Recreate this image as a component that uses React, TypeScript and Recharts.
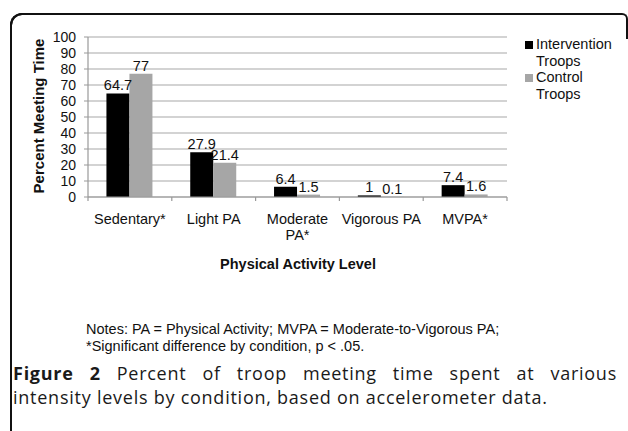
import React from 'react'
import { BarChart, Bar, XAxis, YAxis, CartesianGrid, LabelList } from 'recharts'

const categories = ['Sedentary*', 'Light PA', 'Moderate PA*', 'Vigorous PA', 'MVPA*']
const intervention = [64.7, 27.9, 6.4, 1, 7.4]
const control = [77, 21.4, 1.5, 0.1, 1.6]
const yTicks = [0, 10, 20, 30, 40, 50, 60, 70, 80, 90, 100]

const tickLabelLines: Record<string, string[]> = {
  'Moderate PA*': ['Moderate', 'PA*'],
}

const font = '"Liberation Sans", Arial, sans-serif'

const data = categories.map((c, i) => ({
  name: c,
  intervention: intervention[i],
  control: control[i],
}))

function CategoryTick(props: any) {
  const { x, y, payload, index } = props
  const half = payload && payload.offset ? payload.offset : 41.9
  const lines = tickLabelLines[payload.value] || [payload.value]
  return (
    <g>
      <line x1={x - half} x2={x - half} y1={y - 8} y2={y - 4} stroke="#999" strokeWidth={1.2} />
      {index === categories.length - 1 && (
        <line x1={x + half} x2={x + half} y1={y - 8} y2={y - 4} stroke="#999" strokeWidth={1.2} />
      )}
      <text x={x} y={y + 19} textAnchor="middle" fontSize={14.5} fill="#111" fontFamily={font}>
        {lines.map((l: string, i: number) => (
          <tspan key={i} x={x} dy={i === 0 ? 0 : 16}>{l}</tspan>
        ))}
      </text>
    </g>
  )
}

export default function App() {
  return (
    <div style={{ position: 'absolute', left: 0, top: 0, width: 628, height: 431, background: '#fff', overflow: 'hidden', fontFamily: font }}>
      <div style={{ position: 'absolute', left: 10, top: 13, width: 614, height: 440, borderTop: '2px solid #111', borderLeft: '2px solid #111', borderRight: '2px solid #111', borderTopLeftRadius: 12, borderTopRightRadius: 6, clipPath: 'inset(0 0 416px 0)' }} />
      <div style={{ position: 'absolute', left: 10, top: 13, width: 40, height: 440, borderTop: '2px solid #111', borderLeft: '2px solid #111', borderTopLeftRadius: 12 }} />
      <BarChart
        width={628}
        height={431}
        data={data}
        margin={{ top: 37, right: 121, left: 38, bottom: 194 }}
        barGap={0}
        barCategoryGap="22%"
        style={{ position: 'absolute', left: 0, top: 0 }}
      >
        <CartesianGrid vertical={false} stroke="#c4c4c4" strokeWidth={1.3} />
        <XAxis
          dataKey="name"
          height={40}
          tickLine={false}
          axisLine={{ stroke: '#999', strokeWidth: 1.2 }}
          tick={<CategoryTick />}
          interval={0}
        />
        <YAxis
          width={50}
          domain={[0, 100]}
          ticks={yTicks}
          interval={0}
          tickSize={4}
          tickMargin={8}
          tickLine={{ stroke: '#999' }}
          axisLine={{ stroke: '#999', strokeWidth: 1.2 }}
          tick={{ fontSize: 14, fill: '#111', fontFamily: font }}
        />
        <Bar dataKey="intervention" fill="#000" isAnimationActive={false}>
          <LabelList dataKey="intervention" position="top" offset={3} fontSize={14.5} fill="#111" fontFamily={font} />
        </Bar>
        <Bar dataKey="control" fill="#a6a6a6" isAnimationActive={false}>
          <LabelList dataKey="control" position="top" offset={3} fontSize={14.5} fill="#111" fontFamily={font} />
        </Bar>
      </BarChart>

      <div style={{ position: 'absolute', left: 38, top: 116, transform: 'translate(-50%, -50%) rotate(-90deg)', whiteSpace: 'nowrap', fontWeight: 'bold', fontSize: 15, color: '#111' }}>
        Percent Meeting Time
      </div>

      <div style={{ position: 'absolute', left: 525, top: 36, fontSize: 14.5, lineHeight: '16.5px', color: '#111' }}>
        <div style={{ display: 'flex' }}>
          <span style={{ width: 8, height: 8, background: '#000', marginTop: 5, marginRight: 3 }} />
          <span>Intervention<br />Troops</span>
        </div>
        <div style={{ display: 'flex' }}>
          <span style={{ width: 8, height: 8, background: '#a6a6a6', marginTop: 5, marginRight: 3 }} />
          <span>Control<br />Troops</span>
        </div>
      </div>

      <div style={{ position: 'absolute', left: 298, top: 256, transform: 'translateX(-50%)', whiteSpace: 'nowrap', fontWeight: 'bold', fontSize: 14.5, color: '#111' }}>
        Physical Activity Level
      </div>

      <div style={{ position: 'absolute', left: 86, top: 321, fontSize: 14.5, lineHeight: '17px', color: '#111', whiteSpace: 'nowrap' }}>
        <div>Notes: PA = Physical Activity; MVPA = Moderate-to-Vigorous PA;</div>
        <div>*Significant difference by condition, p &lt; .05.</div>
      </div>

      <div style={{ position: 'absolute', left: 13, top: 361, width: 604, fontFamily: '"Open Sans", sans-serif', fontSize: 18, lineHeight: '24px', color: '#1a1a1a', letterSpacing: 0.75 }}>
        <div style={{ textAlign: 'justify', textAlignLast: 'justify', whiteSpace: 'nowrap' }}>
          <b>Figure 2</b> Percent of troop meeting time spent at various
        </div>
        <div>intensity levels by condition, based on accelerometer data.</div>
      </div>
    </div>
  )
}
